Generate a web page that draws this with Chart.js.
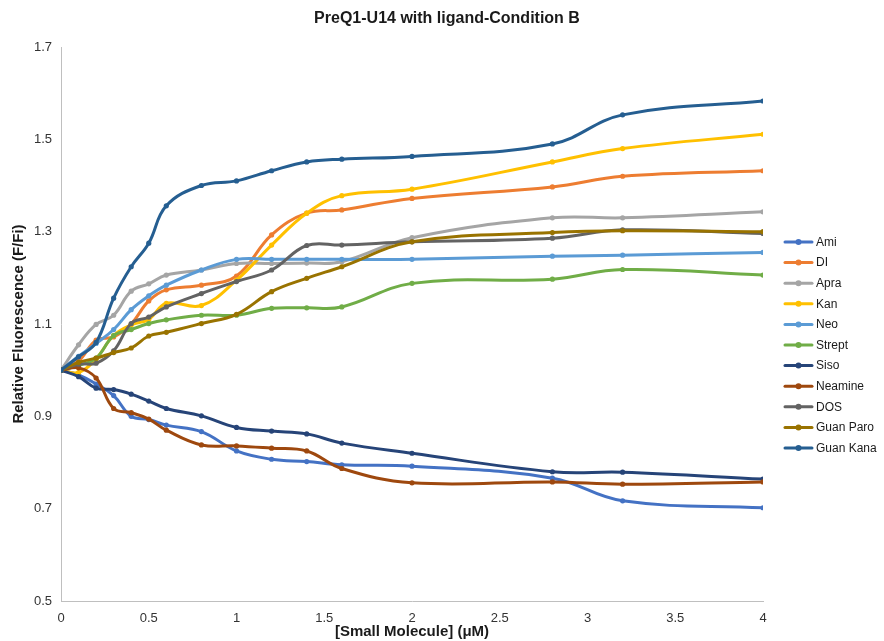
<!DOCTYPE html>
<html>
<head>
<meta charset="utf-8">
<script src="https://cdn.jsdelivr.net/npm/chart.js@4/dist/chart.umd.min.js"></script>
<style>
  html, body { margin: 0; padding: 0; background: #ffffff; }
  #wrap { width: 884px; height: 641px; }
</style>
</head>
<body>
<div id="wrap"><canvas id="c" width="884" height="641"></canvas></div>
<script>
// Ligand concentrations (µM)
const conc = [0, 0.1, 0.2, 0.3, 0.4, 0.5, 0.6, 0.8, 1.0, 1.2, 1.4, 1.6, 2.0, 2.8, 3.2, 4.0];

// Relative fluorescence (F/Fi) for each ligand
const ami       = [1.000, 0.990, 0.970, 0.945, 0.900, 0.893, 0.881, 0.867, 0.825, 0.807, 0.802, 0.795, 0.792, 0.766, 0.717, 0.702];
const di        = [1.000, 1.020, 1.065, 1.072, 1.100, 1.150, 1.174, 1.184, 1.204, 1.293, 1.340, 1.347, 1.372, 1.397, 1.420, 1.432];
const apra      = [1.000, 1.055, 1.099, 1.119, 1.171, 1.187, 1.206, 1.217, 1.231, 1.231, 1.232, 1.235, 1.287, 1.330, 1.330, 1.343];
const kan       = [1.000, 0.995, 1.025, 1.075, 1.098, 1.110, 1.145, 1.140, 1.195, 1.271, 1.340, 1.378, 1.392, 1.451, 1.480, 1.511];
const neo       = [1.000, 1.030, 1.058, 1.088, 1.131, 1.161, 1.184, 1.217, 1.240, 1.240, 1.240, 1.240, 1.240, 1.247, 1.249, 1.255];
const strept    = [1.000, 1.010, 1.026, 1.075, 1.088, 1.101, 1.109, 1.119, 1.119, 1.134, 1.135, 1.137, 1.188, 1.197, 1.218, 1.206];
const siso      = [1.000, 0.986, 0.961, 0.958, 0.948, 0.933, 0.917, 0.901, 0.876, 0.868, 0.862, 0.842, 0.820, 0.780, 0.779, 0.764];
const neamine   = [1.000, 1.005, 0.983, 0.917, 0.908, 0.894, 0.870, 0.838, 0.836, 0.831, 0.825, 0.787, 0.756, 0.758, 0.753, 0.758];
const dos       = [1.000, 1.013, 1.015, 1.042, 1.101, 1.115, 1.137, 1.166, 1.192, 1.217, 1.270, 1.271, 1.278, 1.286, 1.304, 1.296];
const guanParo  = [1.000, 1.017, 1.026, 1.038, 1.048, 1.074, 1.082, 1.101, 1.121, 1.170, 1.199, 1.224, 1.278, 1.298, 1.302, 1.300];
const guanKana  = [1.000, 1.029, 1.060, 1.156, 1.224, 1.275, 1.356, 1.400, 1.410, 1.432, 1.451, 1.457, 1.463, 1.490, 1.553, 1.583];

const seriesNames  = ['Ami', 'DI', 'Apra', 'Kan', 'Neo', 'Strept', 'Siso', 'Neamine', 'DOS', 'Guan Paro', 'Guan Kana'];
const seriesValues = [ami, di, apra, kan, neo, strept, siso, neamine, dos, guanParo, guanKana];
const seriesColors = ['#4472C4', '#ED7D31', '#A5A5A5', '#FFC000', '#5B9BD5', '#70AD47',
                      '#264478', '#9E480E', '#636363', '#997300', '#255E91'];

// Axis ticks
const xTicks = [0, 0.5, 1, 1.5, 2, 2.5, 3, 3.5, 4];
const yTicks = [0.5, 0.7, 0.9, 1.1, 1.3, 1.5, 1.7];

const chartTitle = 'PreQ1-U14 with ligand-Condition B';

const SANS = "'Liberation Sans', Arial, Helvetica, sans-serif";

const n = seriesNames.length;
const datasets = seriesNames.map((name, i) => ({
  label: name,
  data: conc.map((x, k) => ({ x: x, y: seriesValues[i][k] })),
  borderColor: seriesColors[i],
  backgroundColor: seriesColors[i],
  pointBackgroundColor: seriesColors[i],
  pointBorderColor: seriesColors[i],
  borderWidth: 3,
  pointRadius: 2.6,
  pointBorderWidth: 0,
  tension: 0.4,
  fill: false,
  order: n - i   // later series paint on top
}));

// Title over the plot, plus the legend at the right: a short line with a marker, then the name
const titleAndLegend = {
  id: 'titleAndLegend',
  afterDraw(chart) {
    const ctx = chart.ctx;
    const area = chart.chartArea;
    ctx.save();

    ctx.font = 'bold 16px ' + SANS;
    ctx.fillStyle = '#1a1a1a';
    ctx.textAlign = 'center';
    ctx.textBaseline = 'middle';
    ctx.fillText(chartTitle, 447, 19);

    const x0 = area.right + 22;
    const top = area.top + 195;
    const step = 20.6;
    ctx.font = '12px ' + SANS;
    ctx.textAlign = 'left';
    chart.data.datasets.forEach((ds, i) => {
      const y = top + i * step;
      ctx.strokeStyle = ds.borderColor;
      ctx.lineWidth = 3;
      ctx.lineCap = 'round';
      ctx.beginPath();
      ctx.moveTo(x0, y);
      ctx.lineTo(x0 + 27, y);
      ctx.stroke();
      ctx.fillStyle = ds.borderColor;
      ctx.beginPath();
      ctx.arc(x0 + 13.5, y, 3, 0, Math.PI * 2);
      ctx.fill();
      ctx.fillStyle = '#1a1a1a';
      ctx.fillText(ds.label, x0 + 31, y + 0.5);
    });
    ctx.restore();
  }
};

new Chart(document.getElementById('c'), {
  type: 'line',
  data: { datasets: datasets },
  plugins: [titleAndLegend],
  options: {
    responsive: false,
    animation: false,
    layout: { padding: { left: 0, right: 121, top: 47, bottom: 0 } },
    plugins: {
      legend: { display: false },
      tooltip: { enabled: false },
      title: { display: false }
    },
    scales: {
      x: {
        type: 'linear',
        min: 0,
        max: 4,
        afterBuildTicks: (s) => { s.ticks = xTicks.map(v => ({ value: v })); },
        afterFit: (s) => { s.height = 40; },
        grid: { display: false, drawTicks: false },
        border: { display: true, color: '#BFBFBF', width: 1 },
        ticks: {
          color: '#333333',
          font: { family: SANS, size: 13 },
          padding: 10,
          maxRotation: 0,
          callback: (v) => String(v)
        },
        title: {
          display: true,
          text: '[Small Molecule] (μM)',
          color: '#1a1a1a',
          font: { family: SANS, size: 15, weight: 'bold' },
          padding: { top: 0, bottom: 0 }
        }
      },
      y: {
        type: 'linear',
        min: 0.5,
        max: 1.7,
        afterBuildTicks: (s) => { s.ticks = yTicks.map(v => ({ value: v })); },
        afterFit: (s) => { s.width = 61; },
        grid: { display: false, drawTicks: false },
        border: { display: true, color: '#BFBFBF', width: 1 },
        ticks: {
          color: '#333333',
          font: { family: SANS, size: 13 },
          padding: 9,
          callback: (v) => v.toFixed(1)
        },
        title: {
          display: true,
          text: 'Relative Fluorescence (F/Fi)',
          color: '#1a1a1a',
          font: { family: SANS, size: 15, weight: 'bold' },
          padding: { top: 10, bottom: 0 }
        }
      }
    }
  }
});
</script>
</body>
</html>
